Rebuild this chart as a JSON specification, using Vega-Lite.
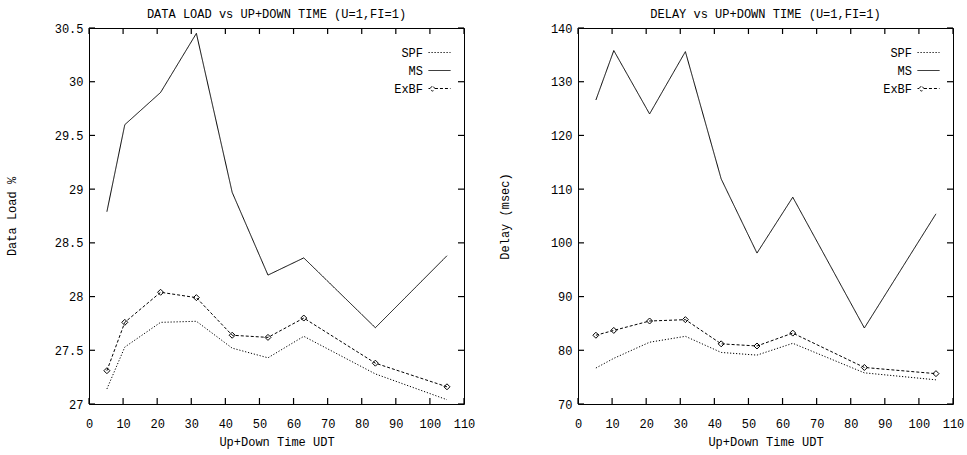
{
  "$schema": "https://vega.github.io/schema/vega-lite/v6.json",
  "padding": {"left": 4, "top": 7, "right": 5, "bottom": 5},
  "datasets": {
    "xticks": [{"t": 0}, {"t": 10}, {"t": 20}, {"t": 30}, {"t": 40}, {"t": 50}, {"t": 60}, {"t": 70}, {"t": 80}, {"t": 90}, {"t": 100}, {"t": 110}],
    "loadticks": [{"t": 27}, {"t": 27.5}, {"t": 28}, {"t": 28.5}, {"t": 29}, {"t": 29.5}, {"t": 30}, {"t": 30.5}],
    "delayticks": [{"t": 70}, {"t": 80}, {"t": 90}, {"t": 100}, {"t": 110}, {"t": 120}, {"t": 130}, {"t": 140}],
    "load": [
      {"udt": 5.25, "series": "SPF", "value": 27.14},
      {"udt": 10.5, "series": "SPF", "value": 27.53},
      {"udt": 21, "series": "SPF", "value": 27.76},
      {"udt": 31.5, "series": "SPF", "value": 27.77},
      {"udt": 42, "series": "SPF", "value": 27.52},
      {"udt": 52.5, "series": "SPF", "value": 27.43},
      {"udt": 63, "series": "SPF", "value": 27.63},
      {"udt": 84, "series": "SPF", "value": 27.28},
      {"udt": 105, "series": "SPF", "value": 27.04},
      {"udt": 5.25, "series": "MS", "value": 28.79},
      {"udt": 10.5, "series": "MS", "value": 29.6},
      {"udt": 21, "series": "MS", "value": 29.9},
      {"udt": 31.5, "series": "MS", "value": 30.45},
      {"udt": 42, "series": "MS", "value": 28.97},
      {"udt": 52.5, "series": "MS", "value": 28.2},
      {"udt": 63, "series": "MS", "value": 28.36},
      {"udt": 84, "series": "MS", "value": 27.71},
      {"udt": 105, "series": "MS", "value": 28.38},
      {"udt": 5.25, "series": "ExBF", "value": 27.31},
      {"udt": 10.5, "series": "ExBF", "value": 27.76},
      {"udt": 21, "series": "ExBF", "value": 28.04},
      {"udt": 31.5, "series": "ExBF", "value": 27.99},
      {"udt": 42, "series": "ExBF", "value": 27.64},
      {"udt": 52.5, "series": "ExBF", "value": 27.62},
      {"udt": 63, "series": "ExBF", "value": 27.8},
      {"udt": 84, "series": "ExBF", "value": 27.38},
      {"udt": 105, "series": "ExBF", "value": 27.16}
    ],
    "delay": [
      {"udt": 5.25, "series": "SPF", "value": 76.7},
      {"udt": 10.5, "series": "SPF", "value": 78.5},
      {"udt": 21, "series": "SPF", "value": 81.5},
      {"udt": 31.5, "series": "SPF", "value": 82.6},
      {"udt": 42, "series": "SPF", "value": 79.6},
      {"udt": 52.5, "series": "SPF", "value": 79.1},
      {"udt": 63, "series": "SPF", "value": 81.3},
      {"udt": 84, "series": "SPF", "value": 75.8},
      {"udt": 105, "series": "SPF", "value": 74.5},
      {"udt": 5.25, "series": "MS", "value": 126.6},
      {"udt": 10.5, "series": "MS", "value": 135.8},
      {"udt": 21, "series": "MS", "value": 124.0},
      {"udt": 31.5, "series": "MS", "value": 135.6},
      {"udt": 42, "series": "MS", "value": 111.9},
      {"udt": 52.5, "series": "MS", "value": 98.1},
      {"udt": 63, "series": "MS", "value": 108.5},
      {"udt": 84, "series": "MS", "value": 84.15},
      {"udt": 105, "series": "MS", "value": 105.4},
      {"udt": 5.25, "series": "ExBF", "value": 82.8},
      {"udt": 10.5, "series": "ExBF", "value": 83.7},
      {"udt": 21, "series": "ExBF", "value": 85.45},
      {"udt": 31.5, "series": "ExBF", "value": 85.7},
      {"udt": 42, "series": "ExBF", "value": 81.2},
      {"udt": 52.5, "series": "ExBF", "value": 80.8},
      {"udt": 63, "series": "ExBF", "value": 83.2},
      {"udt": 84, "series": "ExBF", "value": 76.8},
      {"udt": 105, "series": "ExBF", "value": 75.65}
    ]
  },
  "spacing": 21,
  "hconcat": [
    {
      "title": "DATA LOAD vs UP+DOWN TIME (U=1,FI=1)",
      "width": 375,
      "height": 376,
      "data": {"name": "load"},
      "resolve": {"axis": {"x": "independent", "y": "independent"}},
      "layer": [
        {
          "mark": {"type": "line", "color": "black", "strokeWidth": 1},
          "encoding": {
            "x": {"field": "udt", "type": "quantitative", "scale": {"domain": [0, 110]},
                  "axis": {"orient": "bottom", "values": [0,10,20,30,40,50,60,70,80,90,100,110], "title": "Up+Down Time UDT"}},
            "y": {"field": "value", "type": "quantitative", "scale": {"domain": [27, 30.5], "zero": false},
                  "axis": {"orient": "left", "values": [27,27.5,28,28.5,29,29.5,30,30.5], "format": "~r", "title": "Data Load %", "titlePadding": 36}},
            "strokeDash": {"field": "series", "type": "nominal",
                  "scale": {"domain": ["SPF", "MS", "ExBF"], "range": [[1.2, 1.8], [1, 0], [3, 2]]},
                  "legend": {"title": null}}
          }
        },
        {
          "transform": [{"filter": "datum.series === 'ExBF'"}],
          "mark": {"type": "point", "shape": "diamond", "filled": false, "size": 36, "color": "black", "strokeWidth": 1, "opacity": 1},
          "encoding": {
            "x": {"field": "udt", "type": "quantitative", "axis": null},
            "y": {"field": "value", "type": "quantitative", "axis": null}
          }
        },
        {
          "transform": [{"filter": "datum.udt < 0"}],
          "mark": {"type": "point", "filled": false, "color": "black", "strokeWidth": 1, "opacity": 1},
          "encoding": {
            "x": {"field": "udt", "type": "quantitative", "axis": null},
            "y": {"field": "value", "type": "quantitative", "axis": null},
            "shape": {"field": "series", "type": "nominal",
                  "scale": {"domain": ["SPF", "MS", "ExBF"], "range": ["M-1.57,0H1.57", "M-1.57,0H1.57", "M-1.57,0H-1.35M-1.35,0L-1,-0.4L-0.65,0L-1,0.4ZM-0.65,0H1.57"]},
                  "legend": {"title": null}},
            "strokeDash": {"field": "series", "type": "nominal",
                  "scale": {"domain": ["SPF", "MS", "ExBF"], "range": [[1.2, 1.8], [1, 0], [3, 2]]},
                  "legend": {"title": null}}
          }
        },
        {
          "data": {"name": "xticks"},
          "mark": {"type": "point", "shape": "M0,0V-1", "size": 144, "filled": false, "color": "black", "strokeWidth": 1.2, "opacity": 1},
          "encoding": {
            "x": {"field": "t", "type": "quantitative", "axis": null},
            "y": {"datum": 27, "type": "quantitative", "axis": null}
          }
        },
        {
          "data": {"name": "xticks"},
          "mark": {"type": "point", "shape": "M0,0V1", "size": 144, "filled": false, "color": "black", "strokeWidth": 1.2, "opacity": 1},
          "encoding": {
            "x": {"field": "t", "type": "quantitative", "axis": null},
            "y": {"datum": 30.5, "type": "quantitative", "axis": null}
          }
        },
        {
          "data": {"name": "loadticks"},
          "mark": {"type": "point", "shape": "M0,0H1", "size": 144, "filled": false, "color": "black", "strokeWidth": 1.2, "opacity": 1},
          "encoding": {
            "x": {"datum": 0, "type": "quantitative", "axis": null},
            "y": {"field": "t", "type": "quantitative", "axis": null}
          }
        },
        {
          "data": {"name": "loadticks"},
          "mark": {"type": "point", "shape": "M0,0H-1", "size": 144, "filled": false, "color": "black", "strokeWidth": 1.2, "opacity": 1},
          "encoding": {
            "x": {"datum": 110, "type": "quantitative", "axis": null},
            "y": {"field": "t", "type": "quantitative", "axis": null}
          }
        }
      ]
    },
    {
      "title": "DELAY vs UP+DOWN TIME (U=1,FI=1)",
      "width": 375,
      "height": 376,
      "data": {"name": "delay"},
      "resolve": {"axis": {"x": "independent", "y": "independent"}},
      "layer": [
        {
          "mark": {"type": "line", "color": "black", "strokeWidth": 1},
          "encoding": {
            "x": {"field": "udt", "type": "quantitative", "scale": {"domain": [0, 110]},
                  "axis": {"orient": "bottom", "values": [0,10,20,30,40,50,60,70,80,90,100,110], "title": "Up+Down Time UDT"}},
            "y": {"field": "value", "type": "quantitative", "scale": {"domain": [70, 140], "zero": false},
                  "axis": {"orient": "left", "values": [70,80,90,100,110,120,130,140], "format": "d", "title": "Delay (msec)", "titlePadding": 39}},
            "strokeDash": {"field": "series", "type": "nominal",
                  "scale": {"domain": ["SPF", "MS", "ExBF"], "range": [[1.2, 1.8], [1, 0], [3, 2]]},
                  "legend": {"title": null}}
          }
        },
        {
          "transform": [{"filter": "datum.series === 'ExBF'"}],
          "mark": {"type": "point", "shape": "diamond", "filled": false, "size": 36, "color": "black", "strokeWidth": 1, "opacity": 1},
          "encoding": {
            "x": {"field": "udt", "type": "quantitative", "axis": null},
            "y": {"field": "value", "type": "quantitative", "axis": null}
          }
        },
        {
          "transform": [{"filter": "datum.udt < 0"}],
          "mark": {"type": "point", "filled": false, "color": "black", "strokeWidth": 1, "opacity": 1},
          "encoding": {
            "x": {"field": "udt", "type": "quantitative", "axis": null},
            "y": {"field": "value", "type": "quantitative", "axis": null},
            "shape": {"field": "series", "type": "nominal",
                  "scale": {"domain": ["SPF", "MS", "ExBF"], "range": ["M-1.57,0H1.57", "M-1.57,0H1.57", "M-1.57,0H-1.35M-1.35,0L-1,-0.4L-0.65,0L-1,0.4ZM-0.65,0H1.57"]},
                  "legend": {"title": null}},
            "strokeDash": {"field": "series", "type": "nominal",
                  "scale": {"domain": ["SPF", "MS", "ExBF"], "range": [[1.2, 1.8], [1, 0], [3, 2]]},
                  "legend": {"title": null}}
          }
        },
        {
          "data": {"name": "xticks"},
          "mark": {"type": "point", "shape": "M0,0V-1", "size": 144, "filled": false, "color": "black", "strokeWidth": 1.2, "opacity": 1},
          "encoding": {
            "x": {"field": "t", "type": "quantitative", "axis": null},
            "y": {"datum": 70, "type": "quantitative", "axis": null}
          }
        },
        {
          "data": {"name": "xticks"},
          "mark": {"type": "point", "shape": "M0,0V1", "size": 144, "filled": false, "color": "black", "strokeWidth": 1.2, "opacity": 1},
          "encoding": {
            "x": {"field": "t", "type": "quantitative", "axis": null},
            "y": {"datum": 140, "type": "quantitative", "axis": null}
          }
        },
        {
          "data": {"name": "delayticks"},
          "mark": {"type": "point", "shape": "M0,0H1", "size": 144, "filled": false, "color": "black", "strokeWidth": 1.2, "opacity": 1},
          "encoding": {
            "x": {"datum": 0, "type": "quantitative", "axis": null},
            "y": {"field": "t", "type": "quantitative", "axis": null}
          }
        },
        {
          "data": {"name": "delayticks"},
          "mark": {"type": "point", "shape": "M0,0H-1", "size": 144, "filled": false, "color": "black", "strokeWidth": 1.2, "opacity": 1},
          "encoding": {
            "x": {"datum": 110, "type": "quantitative", "axis": null},
            "y": {"field": "t", "type": "quantitative", "axis": null}
          }
        }
      ]
    }
  ],
  "resolve": {"scale": {"strokeDash": "independent", "shape": "independent"}, "legend": {"strokeDash": "independent", "shape": "independent"}},
  "config": {
    "background": "white",
    "font": "Liberation Mono",
    "view": {"stroke": "black", "strokeWidth": 1},
    "title": {"font": "Liberation Mono", "fontSize": 12, "fontWeight": "normal", "color": "black", "offset": 1, "anchor": "middle"},
    "axis": {
      "grid": false,
      "domain": false,
      "ticks": true,
      "tickSize": 0,
      "labelFlush": false,
      "labelOverlap": false,
      "labelFont": "Liberation Mono",
      "labelFontSize": 12,
      "labelColor": "black",
      "titleFont": "Liberation Mono",
      "titleFontSize": 12,
      "titleFontWeight": "normal",
      "titleColor": "black",
      "minExtent": 0
    },
    "axisLeft": {"labelPadding": 6},
    "axisBottom": {"labelPadding": 14, "titlePadding": 7},
    "legend": {
      "orient": "none",
      "legendX": 343,
      "legendY": 17,
      "padding": 0,
      "labelFont": "Liberation Mono",
      "labelFontSize": 12,
      "labelColor": "black",
      "labelAlign": "right",
      "labelOffset": -24,
      "symbolSize": 196,
      "symbolStrokeWidth": 1,
      "symbolStrokeColor": "black",
      "symbolFillColor": "transparent",
      "symbolOffset": 0,
      "rowPadding": 4
    }
  }
}
